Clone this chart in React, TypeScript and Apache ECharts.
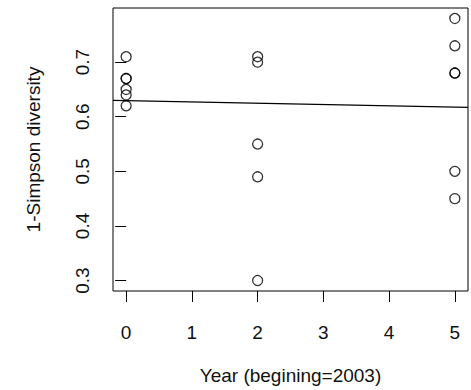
import React, { useEffect, useRef } from "react";
import * as echarts from "echarts";

const years0 = [0, 0, 0, 0, 0, 0];
const values0 = [0.71, 0.67, 0.67, 0.65, 0.64, 0.62];
const years2 = [2, 2, 2, 2, 2];
const values2 = [0.71, 0.7, 0.55, 0.49, 0.3];
const years5 = [5, 5, 5, 5, 5, 5];
const values5 = [0.78, 0.73, 0.68, 0.68, 0.5, 0.45];
const fitX = [-0.2, 5.2];
const fitY = [0.63, 0.617];
const xTicks = [0, 1, 2, 3, 4, 5];
const yTicks = [0.3, 0.4, 0.5, 0.6, 0.7];

const FONT = "Liberation Sans";
const TEXT = "#111";

export default function App() {
  const ref = useRef<HTMLDivElement>(null);
  useEffect(() => {
    if (!ref.current) return;
    const chart = echarts.init(ref.current, null, { renderer: "svg" });
    const pts: number[][] = [];
    years0.forEach((x, i) => pts.push([x, values0[i]]));
    years2.forEach((x, i) => pts.push([x, values2[i]]));
    years5.forEach((x, i) => pts.push([x, values5[i]]));
    const fit = fitX.map((x, i) => [x, fitY[i]]);
    chart.setOption({
      animation: false,
      backgroundColor: "#fff",
      grid: {
        left: 113,
        right: 3,
        top: 8,
        bottom: 98,
        show: true,
        borderColor: "#000",
        borderWidth: 1,
        backgroundColor: "transparent",
      },
      xAxis: {
        type: "value",
        min: -0.2,
        max: 5.2,
        splitLine: { show: false },
        axisLine: { show: false },
        axisTick: {
          show: true,
          length: 11,
          customValues: xTicks,
          lineStyle: { color: "#000", width: 1 },
        },
        axisLabel: {
          customValues: xTicks,
          margin: 32,
          fontSize: 19,
          fontFamily: FONT,
          color: TEXT,
        },
        name: "Year (begining=2003)",
        nameLocation: "middle",
        nameGap: 75,
        nameTextStyle: { fontSize: 19, fontFamily: FONT, color: TEXT },
      },
      yAxis: {
        type: "value",
        min: 0.2808,
        max: 0.7992,
        splitLine: { show: false },
        axisLine: { show: false },
        axisTick: {
          show: true,
          length: 11,
          customValues: yTicks,
          lineStyle: { color: "#000", width: 1 },
        },
        axisLabel: {
          customValues: yTicks,
          rotate: 90,
          margin: 21,
          fontSize: 19,
          fontFamily: FONT,
          color: TEXT,
          align: "center",
          verticalAlign: "bottom",
          formatter: (v: number) => v.toFixed(1),
        },
        name: "1-Simpson diversity",
        nameLocation: "middle",
        nameRotate: 90,
        nameGap: 70,
        nameTextStyle: { fontSize: 19, fontFamily: FONT, color: TEXT },
      },
      series: [
        {
          type: "line",
          data: fit,
          symbol: "none",
          lineStyle: { color: "#000", width: 1.2 },
          clip: true,
        },
        {
          type: "scatter",
          data: pts,
          symbol: "circle",
          symbolSize: 10,
          itemStyle: { color: "transparent", borderColor: "#000", borderWidth: 1.3 },
        },
      ],
    });
    return () => chart.dispose();
  }, []);
  return (
    <div
      ref={ref}
      style={{ position: "fixed", left: 0, top: 0, width: 471, height: 390 }}
    />
  );
}
